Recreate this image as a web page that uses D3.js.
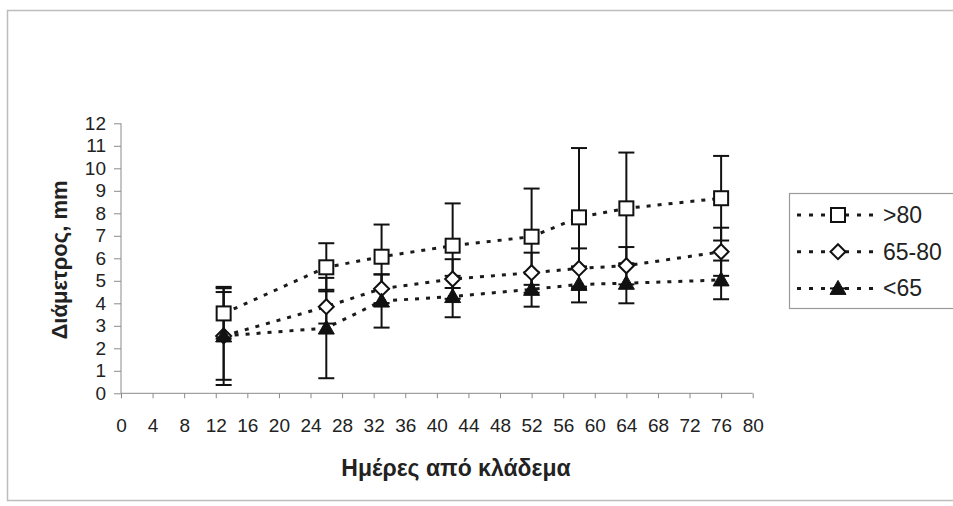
<!DOCTYPE html>
<html>
<head>
<meta charset="utf-8">
<script src="https://cdn.jsdelivr.net/npm/d3@7"></script>
<style>
  body { margin: 0; background: #fff; }
  svg { display: block; font-family: "Liberation Sans", Arial, sans-serif; }
  .axis path, .axis line { stroke: #8a8a8a; }
  .axis text { fill: #222; font-size: 19px; }
</style>
</head>
<body>
<svg></svg>
<script>
// data
var days = [13, 26, 33, 42, 52, 58, 64, 76];
var over80 = [3.55, 5.6, 6.07, 6.56, 6.96, 7.82, 8.22, 8.67];
var over80Err = [1.12, 1.07, 1.43, 1.88, 2.14, 3.08, 2.48, 1.88];
var mid = [2.55, 3.85, 4.65, 5.08, 5.36, 5.55, 5.67, 6.29];
var midErr = [1.95, 0.75, 0.64, 0.88, 0.89, 0.89, 0.83, 1.07];
var under65 = [2.55, 2.9, 4.1, 4.3, 4.62, 4.84, 4.89, 5.04];
var under65Err = [2.18, 2.23, 1.18, 0.92, 0.77, 0.8, 0.89, 0.86];
var seriesNames = [">80", "65-80", "<65"];
var xTicks = d3.range(0, 81, 4);
var yTicks = d3.range(0, 13, 1);

var svgWidth = 953, svgHeight = 506;
var xLeft = 121, xRight = 752.7, yBottom = 393.3, yTop = 123.3;

var svg = d3.select('svg')
  .attr('width', svgWidth)
  .attr('height', svgHeight);

// outer frame
svg.append('rect')
  .attr('x', 7.5).attr('y', 10.5)
  .attr('width', 960).attr('height', 490)
  .attr('fill', 'none')
  .attr('stroke', '#bdbdbd')
  .attr('stroke-width', 1.5);

var x = d3.scaleLinear().domain([0, 80]).range([xLeft, xRight]);
var y = d3.scaleLinear().domain([0, 12]).range([yBottom, yTop]);

var yAxis = d3.axisLeft(y).tickValues(yTicks).tickSize(7).tickPadding(8);
var xAxis = d3.axisBottom(x).tickValues(xTicks).tickSize(5).tickPadding(20);

svg.append('g')
  .attr('class', 'axis')
  .attr('transform', 'translate(' + xLeft + ',0)')
  .call(yAxis)
  .call(function(g) { g.select('.domain').attr('d', 'M0,' + yTop + 'V' + yBottom); });

svg.append('g')
  .attr('class', 'axis')
  .attr('transform', 'translate(0,' + yBottom + ')')
  .call(xAxis)
  .call(function(g) { g.select('.domain').attr('d', 'M' + xLeft + ',0H' + xRight); });

// axis titles
svg.append('text')
  .attr('x', 456).attr('y', 476)
  .attr('text-anchor', 'middle')
  .attr('font-weight', 'bold')
  .attr('font-size', 23)
  .attr('fill', '#222')
  .text('Ημέρες από κλάδεμα');

svg.append('text')
  .attr('transform', 'translate(67,260) rotate(-90)')
  .attr('text-anchor', 'middle')
  .attr('font-weight', 'bold')
  .attr('font-size', 22)
  .attr('fill', '#222')
  .text('Διάμετρος, mm');

var series = [
  { name: seriesNames[0], values: over80, err: over80Err, shape: 'square' },
  { name: seriesNames[1], values: mid, err: midErr, shape: 'diamond' },
  { name: seriesNames[2], values: under65, err: under65Err, shape: 'triangle' }
];

var line = d3.line()
  .x(function(d) { return x(d[0]); })
  .y(function(d) { return y(d[1]); });

function drawMarker(g, shape) {
  if (shape === 'square') {
    g.append('rect').attr('x', -7).attr('y', -7).attr('width', 14).attr('height', 14)
      .attr('fill', '#fff').attr('stroke', '#111').attr('stroke-width', 2);
  } else if (shape === 'diamond') {
    g.append('path').attr('d', 'M0,-7.5L7.5,0L0,7.5L-7.5,0Z')
      .attr('fill', '#fff').attr('stroke', '#111').attr('stroke-width', 2);
  } else {
    g.append('path').attr('d', 'M0,-8L8,6L-8,6Z')
      .attr('fill', '#111').attr('stroke', '#111').attr('stroke-width', 1);
  }
}

// dotted lines
series.forEach(function(s) {
  svg.append('path')
    .datum(days.map(function(d, i) { return [d, s.values[i]]; }))
    .attr('d', line)
    .attr('fill', 'none')
    .attr('stroke', '#1a1a1a')
    .attr('stroke-width', 3)
    .attr('stroke-dasharray', '4,7');
});

// error bars
series.forEach(function(s) {
  var eb = svg.append('g').selectAll('g')
    .data(days.map(function(d, i) { return { d: d, v: s.values[i], e: s.err[i] }; }))
    .enter().append('g')
    .attr('stroke', '#111')
    .attr('stroke-width', 2);
  eb.append('line')
    .attr('x1', function(p) { return x(p.d); })
    .attr('x2', function(p) { return x(p.d); })
    .attr('y1', function(p) { return y(p.v + p.e); })
    .attr('y2', function(p) { return y(p.v - p.e); });
  eb.append('line')
    .attr('x1', function(p) { return x(p.d) - 8; })
    .attr('x2', function(p) { return x(p.d) + 8; })
    .attr('y1', function(p) { return y(p.v + p.e); })
    .attr('y2', function(p) { return y(p.v + p.e); });
  eb.append('line')
    .attr('x1', function(p) { return x(p.d) - 8; })
    .attr('x2', function(p) { return x(p.d) + 8; })
    .attr('y1', function(p) { return y(p.v - p.e); })
    .attr('y2', function(p) { return y(p.v - p.e); });
});

// markers
series.forEach(function(s) {
  s.values.forEach(function(v, i) {
    var g = svg.append('g').attr('transform', 'translate(' + x(days[i]) + ',' + y(v) + ')');
    drawMarker(g, s.shape);
  });
});

// legend
var legend = svg.append('g');
legend.append('rect')
  .attr('x', 789.5).attr('y', 193.5)
  .attr('width', 180).attr('height', 115)
  .attr('fill', '#fff')
  .attr('stroke', '#9a9a9a')
  .attr('stroke-width', 1.2);

series.forEach(function(s, i) {
  var ly = 215 + i * 36.7;
  legend.append('line')
    .attr('x1', 797).attr('x2', 880)
    .attr('y1', ly).attr('y2', ly)
    .attr('stroke', '#1a1a1a')
    .attr('stroke-width', 3)
    .attr('stroke-dasharray', '4,8');
  legend.append('line')
    .attr('x1', 830).attr('x2', 846)
    .attr('y1', ly).attr('y2', ly)
    .attr('stroke', '#111').attr('stroke-width', 2);
  drawMarker(legend.append('g').attr('transform', 'translate(838,' + ly + ')'), s.shape);
  legend.append('text')
    .attr('x', 883).attr('y', ly + 8)
    .attr('font-size', 23)
    .attr('fill', '#222')
    .text(s.name);
});
</script>
</body>
</html>
